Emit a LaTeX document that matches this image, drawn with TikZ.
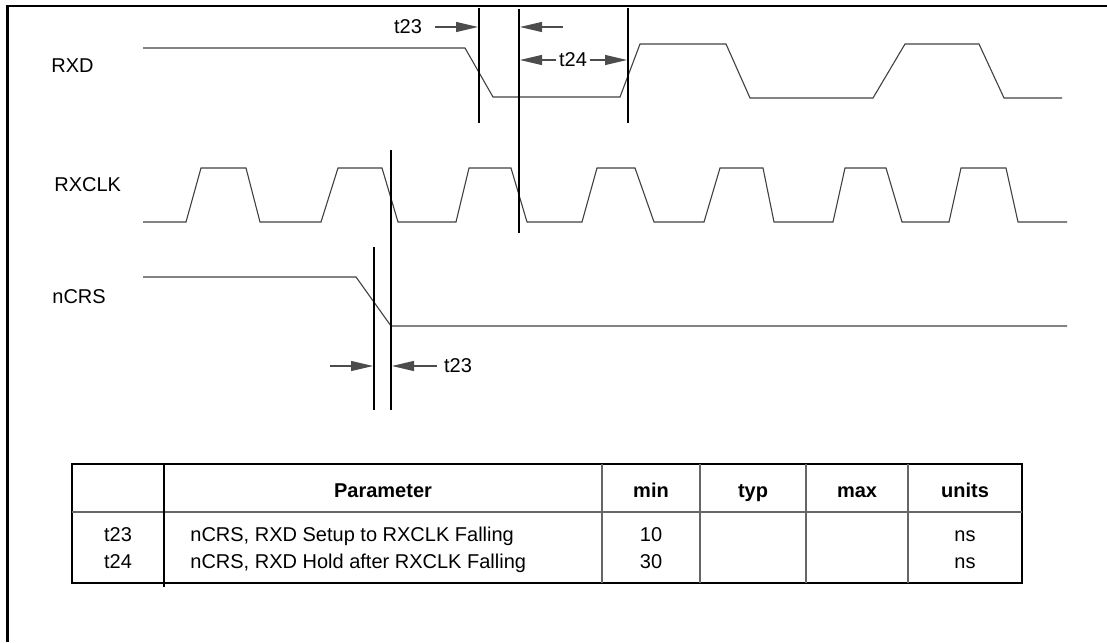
\documentclass[tikz,border=0pt]{standalone}
\usepackage{fontspec}
\setmainfont{Liberation Sans}
\usetikzlibrary{positioning,arrows.meta}
\tikzset{
  sig/.style={draw=black!75,line width=0.55pt,line join=miter},
  guide/.style={draw=black,line width=0.55pt},
  dim/.style={-{Triangle[length=11pt,width=5pt]},draw=black!70,line width=0.55pt},
  lbl/.style={inner sep=0pt,font=\fontsize{10}{12}\selectfont},
}

\begin{document}
\begin{tikzpicture}[x=0.5pt,y=-0.5pt,
   frame/.style={draw=black,line width=1.3pt},
   rule/.style={draw=black!60,line width=0.6pt},
   cell/.style={anchor=base,inner sep=0pt,font=\fontsize{10}{12}\selectfont},
   hdr/.style={cell,font=\fontsize{10}{12}\selectfont\bfseries}]
  \useasboundingbox (0,0) rectangle (1107,642);
  \draw[frame] (7.5,642) -- (7.5,6) -- (1107,6);
  % signal names
  \node[lbl,anchor=west] (rxd) at (51,66) {RXD};
  \node[lbl,anchor=west] (rxclk) at (54,185) {RXCLK};
  \node[lbl,anchor=west] (ncrs) at (52,297) {nCRS};
  % RXD
  \draw[sig] (143,48) -- (465,48) -- (493,97) -- (620,97) -- (640,44) -- (726,44)
    -- (750,98) -- (873,98) -- (905,44) -- (979,44) -- (1004,98) -- (1062,98);
  % RXCLK
  \draw[sig] (143,222) -- (186,222) -- (201,168) -- (246,168) -- (260,222)
    -- (321,222) -- (338,168) -- (382,168) -- (398,222)
    -- (456,222) -- (469,168) -- (511,168) -- (527,222)
    -- (582,222) -- (597,168) -- (635,168) -- (654,222)
    -- (704,222) -- (720,168) -- (763,168) -- (774,222)
    -- (833,222) -- (845,168) -- (886,168) -- (902,222)
    -- (949,222) -- (961,168) -- (1006,168) -- (1018,222) -- (1067,222);
  % nCRS
  \draw[sig] (143,277) -- (356,277) -- (391,326) -- (1067,326);
  % guide lines
  \draw[guide] (374,247) -- (374,410);
  \draw[guide] (391,150) -- (391,410);
  \draw[guide] (479,8) -- (479,123);
  \draw[guide] (519,9) -- (519,233);
  \draw[guide] (628,8) -- (628,123);
  % t23 / t24 on RXD
  \node[lbl,inner xsep=6.5pt] (t23a) at (408,27) {t23};
  \coordinate (g479) at (478,27);
  \draw[dim] (t23a) -- (g479);
  \coordinate (s23b) at (563,27);
  \coordinate (g519) at (520,27);
  \draw[dim] (s23b) -- (g519);
  \node[lbl,inner xsep=1.2pt] (t24) at (573,60) {t24};
  \coordinate (g519b) at (520,60);
  \coordinate (g628) at (627,60);
  \draw[dim] (t24) -- (g519b);
  \draw[dim] (t24) -- (g628);
  % t23 on nCRS
  \coordinate (s23c) at (330,366);
  \coordinate (g374) at (373,366);
  \draw[dim] (s23c) -- (g374);
  \node[lbl,inner xsep=3.5pt] (t23c) at (458,366) {t23};
  \coordinate (g391) at (392,366);
  \draw[dim] (t23c) -- (g391);
  % table
  \draw[line width=0.9pt] (72,464) rectangle (1022,583);
  \draw[rule] (72,512) -- (1022,512);
  \draw[draw=black,line width=0.6pt] (164,463) -- (164,587);
  \foreach \x in {602,700,806,908} \draw[rule] (\x,464) -- (\x,583);
  \node[hdr] (hpar) at (383,497) {Parameter};
  \node[hdr] (hmin) at (651,497) {min};
  \node[hdr] (htyp) at (753,497) {typ};
  \node[hdr] (hmax) at (857,497) {max};
  \node[hdr] (hunit) at (965,497) {units};
  \node[cell] (p23) at (118,541) {t23};
  \node[cell,anchor=base west] (d23) at (190,541) {nCRS, RXD Setup to RXCLK Falling};
  \node[cell] (min23) at (651,541) {10};
  \node[cell] (u23) at (965,541) {ns};
  \node[cell] (p24) at (118,568) {t24};
  \node[cell,anchor=base west] (d24) at (190,568) {nCRS, RXD Hold after RXCLK Falling};
  \node[cell] (min24) at (651,568) {30};
  \node[cell] (u24) at (965,568) {ns};
\end{tikzpicture}
\end{document}
